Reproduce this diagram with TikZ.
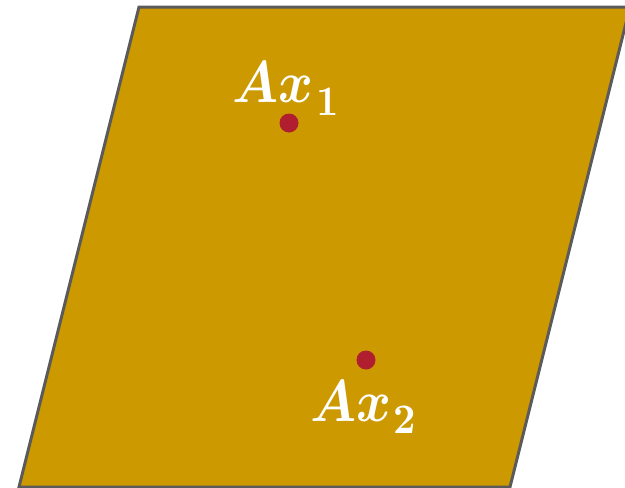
\documentclass[tikz,border=0pt]{standalone}
\usepackage{bm}
\definecolor{planefill}{HTML}{CC9900}
\definecolor{planeedge}{HTML}{5A5A5A}
\definecolor{dotred}{HTML}{B01E30}
\tikzset{
  plane/.style={fill=planefill, draw=planeedge, line width=3pt, line join=miter},
  ptdot/.style={circle, fill=dotred, inner sep=0pt, minimum size=19pt},
  lbl/.style={anchor=base west, inner sep=0pt, text=white}
}
\newcommand{\mainlbl}[1]{\scalebox{5.3}[5.9]{$\bm{#1}$}}
\newcommand{\sublbl}[1]{\scalebox{3.9}[4.2]{$\bm{#1}$}}
\begin{document}
\begin{tikzpicture}[x=1pt,y=-1pt]
\useasboundingbox (0,0) rectangle (625,488);
\begin{scope}
\clip (0,0) rectangle (625,488);
\draw[plane] (139,7) -- (630,7) -- (510,487) -- (19,487) -- cycle;
\end{scope}
\node[ptdot] (p1) at (289,123) {};
\node[ptdot] (p2) at (366,360) {};
\node[lbl] (a1) at (232,102) {\mainlbl{Ax}};
\node[lbl] (s1) at (316,115) {\sublbl{1}};
\node[lbl] (a2) at (310,421) {\mainlbl{Ax}};
\node[lbl] (s2) at (393,433) {\sublbl{2}};
\end{tikzpicture}
\end{document}
